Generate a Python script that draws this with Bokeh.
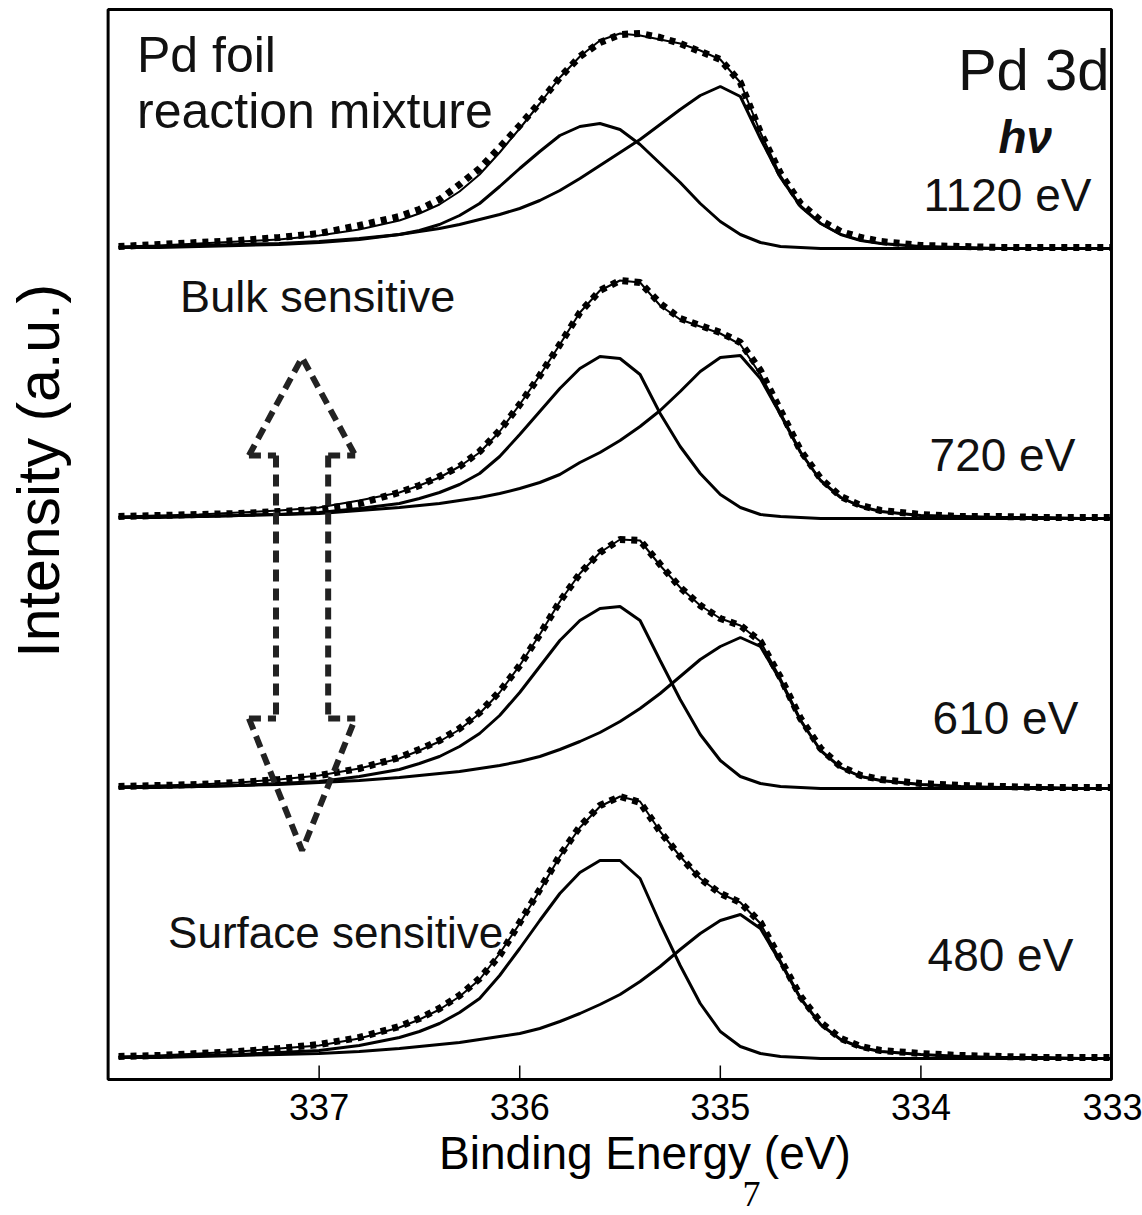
from bokeh.plotting import figure
from bokeh.models import Range1d, FixedTicker, Label, Title
from bokeh.embed import file_html
from bokeh.resources import INLINE

# ---------------- data ----------------
energy = [338.0, 337.8, 337.6, 337.4, 337.2, 337.0, 336.8,
          336.6, 336.5, 336.4, 336.3, 336.2, 336.1, 336.0, 335.9, 335.8, 335.7, 335.6, 335.5,
          335.4, 335.3, 335.2, 335.1, 335.0, 334.9, 334.8, 334.7, 334.6, 334.5, 334.4, 334.3, 334.2,
          334.0, 333.8, 333.6, 333.4, 333.2, 333.05]

photon_energies = ["1120 eV", "720 eV", "610 eV", "480 eV"]

data_1120 = [2, 4, 6, 8, 11, 15, 23,
             32, 39, 49, 64, 80, 101, 123, 146, 171, 192, 206, 214, 215, 211, 205, 197, 189, 166, 116, 75, 45, 28, 17, 11, 7,
             3, 2, 1, 1, 1, 1]
high_1120 = [1, 1, 2, 3, 4, 6, 9,
             14, 18, 24, 33, 45, 62, 80, 97, 113, 122, 125, 119, 104, 85, 66, 45, 27, 14, 6, 2, 1, 0, 0, 0, 0,
             0, 0, 0, 0, 0, 0]
low_1120 = [1, 2, 3, 4, 5, 7, 10,
            14, 17, 20, 24, 29, 34, 40, 48, 58, 70, 83, 96, 109, 124, 139, 153, 162, 152, 110, 71, 42, 25, 14, 8, 5,
            2, 1, 0, 0, 0, 0]

data_720 = [2, 3, 4, 5, 7, 9, 15,
            26, 33, 42, 52, 67, 88, 114, 143, 174, 206, 228, 238, 236, 215, 200, 193, 186, 176, 148, 108, 68, 40, 22, 13, 8,
            4, 2, 2, 1, 1, 1]
high_720 = [1, 2, 2, 3, 4, 6, 10,
            15, 20, 26, 34, 45, 62, 84, 107, 130, 150, 162, 160, 144, 105, 72, 45, 24, 11, 4, 2, 1, 0, 0, 0, 0,
            0, 0, 0, 0, 0, 0]
low_720 = [1, 1, 2, 3, 4, 5, 8,
           11, 13, 15, 18, 21, 25, 30, 36, 44, 56, 66, 78, 92, 108, 127, 147, 161, 163, 140, 104, 66, 38, 21, 12, 7,
           3, 2, 1, 1, 0, 0]

data_610 = [2, 3, 4, 6, 9, 13, 20,
            31, 39, 48, 60, 76, 97, 123, 154, 187, 215, 236, 249, 248, 224, 201, 183, 170, 163, 147, 111, 70, 40, 22, 13, 9,
            5, 3, 2, 1, 1, 1]
high_610 = [1, 2, 2, 3, 5, 7, 12,
            19, 25, 32, 42, 55, 73, 96, 122, 148, 168, 180, 182, 168, 128, 89, 54, 28, 12, 5, 2, 1, 0, 0, 0, 0,
            0, 0, 0, 0, 0, 0]
low_610 = [1, 1, 2, 3, 4, 6, 8,
           11, 13, 15, 17, 20, 23, 27, 32, 39, 47, 56, 67, 80, 95, 112, 129, 142, 151, 142, 108, 68, 38, 21, 12, 8,
           4, 2, 1, 1, 0, 0]

data_480 = [2, 3, 5, 7, 10, 14, 21,
            32, 40, 50, 63, 80, 103, 136, 169, 203, 232, 253, 262, 256, 227, 202, 180, 165, 156, 136, 99, 62, 36, 20, 12, 8,
            5, 3, 2, 1, 1, 1]
high_480 = [1, 2, 3, 4, 6, 8, 13,
            21, 27, 35, 46, 60, 83, 110, 138, 165, 186, 198, 198, 180, 135, 93, 55, 27, 12, 5, 2, 1, 0, 0, 0, 0,
            0, 0, 0, 0, 0, 0]
low_480 = [1, 1, 2, 3, 4, 5, 7,
           10, 12, 14, 16, 19, 22, 25, 30, 37, 45, 54, 64, 77, 92, 109, 125, 138, 144, 130, 96, 60, 34, 19, 11, 7,
           4, 2, 1, 1, 0, 0]

x_ticks = [337, 336, 335, 334]
x_tick_labels = [337, 336, 335, 334, 333]

# ---------------- layout ----------------
spectra = [
    (data_1120, high_1120, low_1120, 831),
    (data_720, high_720, low_720, 561),
    (data_610, high_610, low_610, 291),
    (data_480, high_480, low_480, 21),
]
box_left, box_right, box_bottom, box_top = 338.052, 333.05, 0, 1070

FONT = "Liberation Sans"
NB = "\u00a0"

p = figure(width=1142, height=1215,
           x_range=Range1d(338.07, 333.0), y_range=Range1d(-4, 1074),
           output_backend="svg", toolbar_location=None,
           min_border_left=104, min_border_right=21, min_border_top=5, min_border_bottom=132)

p.background_fill_color = "white"
p.border_fill_color = "white"
p.outline_line_color = None
p.xgrid.visible = False
p.ygrid.visible = False

# x axis (labels only; tick marks drawn inside the box below)
p.xaxis.ticker = FixedTicker(ticks=x_tick_labels)
p.xaxis.major_tick_line_color = None
p.xaxis.major_tick_in = 0
p.xaxis.major_tick_out = 0
p.xaxis.minor_tick_line_color = None
p.xaxis.axis_line_color = None
p.xaxis.major_label_text_font = FONT
p.xaxis.major_label_text_font_size = "36px"
p.xaxis.major_label_text_color = "black"
p.xaxis.major_label_standoff = 10
p.xaxis.axis_label = NB * 5 + "Binding Energy (eV)"
p.xaxis.axis_label_text_font = FONT
p.xaxis.axis_label_text_font_size = "46px"
p.xaxis.axis_label_text_font_style = "normal"
p.xaxis.axis_label_text_color = "black"
p.xaxis.axis_label_standoff = 4

# y axis: label only
p.yaxis.ticker = FixedTicker(ticks=[])
p.yaxis.major_tick_line_color = None
p.yaxis.minor_tick_line_color = None
p.yaxis.axis_line_color = None
p.yaxis.major_label_text_font_size = "0px"
p.yaxis.major_label_standoff = 0
p.yaxis.major_tick_out = 0
p.yaxis.axis_label = NB * 9 + "Intensity (a.u.)"
p.yaxis.axis_label_text_font = FONT
p.yaxis.axis_label_text_font_size = "59px"
p.yaxis.axis_label_text_font_style = "normal"
p.yaxis.axis_label_text_color = "black"
p.yaxis.axis_label_standoff = 33

# frame box and inward tick marks
p.quad(left=[box_left], right=[box_right], bottom=[box_bottom], top=[box_top],
       fill_color=None, line_color="black", line_width=3)
p.segment(x0=x_ticks, y0=[box_bottom] * len(x_ticks), x1=x_ticks, y1=[box_bottom + 14] * len(x_ticks),
          line_color="black", line_width=1.5)

for data, hi, lo, off in spectra:
    y_hi = [v + off for v in hi]
    y_lo = [v + off for v in lo]
    y_env = [a + b + off for a, b in zip(hi, lo)]
    y_dat = [v + off for v in data]
    p.line(energy, y_hi, line_color="black", line_width=3)
    p.line(energy, y_lo, line_color="black", line_width=3)
    p.line(energy, y_env, line_color="black", line_width=2)
    p.line(energy, y_dat, line_color="black", line_width=7, line_dash="6 6")

# double-headed dashed arrow (annotation)
ax = 337.085
head = 0.265
shaft = 0.13
tip_top, bar_top, bar_bot, tip_bot = 722, 624, 361, 229
arrow_xs = [
    [ax + head, ax, ax - head],
    [ax + head, ax + shaft], [ax - shaft, ax - head],
    [ax + shaft, ax + shaft], [ax - shaft, ax - shaft],
    [ax + head, ax + shaft], [ax - shaft, ax - head],
    [ax + head, ax, ax - head],
]
arrow_ys = [
    [bar_top, tip_top, bar_top],
    [bar_top, bar_top], [bar_top, bar_top],
    [bar_top, bar_bot], [bar_top, bar_bot],
    [bar_bot, bar_bot], [bar_bot, bar_bot],
    [bar_bot, tip_bot, bar_bot],
]
p.multi_line(arrow_xs, arrow_ys, line_color="#222222", line_width=6, line_dash="12 7")

def add_label(text, x, y, size, align="left", style="normal", font=FONT):
    p.add_layout(Label(x=x, y=y, x_units="data", y_units="data", text=text,
                       text_font=font, text_font_size=size, text_font_style=style,
                       text_align=align, text_baseline="alphabetic", text_color="#111111"))

add_label("Pd foil", 337.908, 1025, "50px")
add_label("reaction mixture", 337.908, 969, "50px")
add_label("Pd 3d", 333.06, 1010, "58px", align="right")
add_label("hν", 333.48, 943, "46px", align="center", style="bold italic")
add_label(photon_energies[0], 333.15, 885, "46px", align="right")
add_label(photon_energies[1], 333.23, 625, "46px", align="right")
add_label(photon_energies[2], 333.215, 362, "46px", align="right")
add_label(photon_energies[3], 333.24, 125, "46px", align="right")
add_label("Bulk sensitive", 337.693, 783, "45px")
add_label("Surface sensitive", 337.753, 147, "44px")

# page number below the axis
page = Title(text="7", align="left", offset=638, text_font="Liberation Serif",
             text_font_size="36px", text_font_style="normal", text_color="black")
try:
    page.standoff = -4
except Exception:
    page.standoff = 0
p.add_layout(page, "below")

open("out.html", "w").write(file_html(p, INLINE))
